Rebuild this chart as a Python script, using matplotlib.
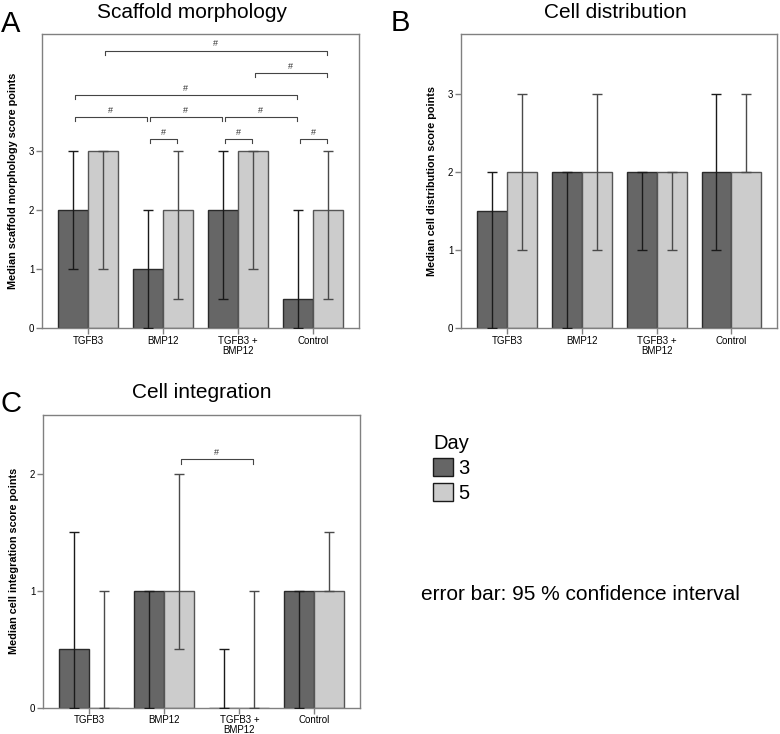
"""Median score bar charts (scaffold morphology, cell distribution, cell integration)"""

import matplotlib
matplotlib.use('Agg')
import matplotlib.pyplot as plt
from matplotlib.patches import Patch
import numpy as np

plt.rcParams['font.family'] = ['Liberation Sans', 'DejaVu Sans']

groups = ['TGFB3', 'BMP12', 'TGFB3 +\nBMP12', 'Control']
days = ['3', '5']

# panel A: scaffold morphology
morph_d3 = [2, 1, 2, 0.5]
morph_d5 = [3, 2, 3, 2]
morph_lo_d3 = [1, 0, 0.5, 0]
morph_hi_d3 = [3, 2, 3, 2]
morph_lo_d5 = [1, 0.5, 1, 0.5]
morph_hi_d5 = [3, 3, 3, 3]

# panel B: cell distribution
dist_d3 = [1.5, 2, 2, 2]
dist_d5 = [2, 2, 2, 2]
dist_lo_d3 = [0, 0, 1, 1]
dist_hi_d3 = [2, 2, 2, 3]
dist_lo_d5 = [1, 1, 1, 2]
dist_hi_d5 = [3, 3, 2, 3]

# panel C: cell integration
integ_d3 = [0.5, 1, 0, 1]
integ_d5 = [0, 1, 0, 1]
integ_lo_d3 = [0, 0, 0, 0]
integ_hi_d3 = [1.5, 1, 0.5, 1]
integ_lo_d5 = [0, 0.5, 0, 1]
integ_hi_d5 = [1, 2, 1, 1.5]

# significance brackets: (group a, day a, group b, day b, height)
morph_sig = [
    (1, 0, 1, 1, 3.2), (2, 0, 2, 1, 3.2), (3, 0, 3, 1, 3.2),
    (0, 0, 1, 0, 3.575), (1, 0, 2, 0, 3.575), (2, 0, 3, 0, 3.575),
    (0, 0, 3, 0, 3.95),
    (2, 1, 3, 1, 4.325),
    (0, 1, 3, 1, 4.7),
]
integ_sig = [(1, 1, 2, 1, 2.12)]

DARK = '#666666'
LIGHT = '#cccccc'
SPINE = '#808080'
W = 0.4


def draw_panel(ax, d3, d5, lo3, hi3, lo5, hi5, ymax, yticks, ylabel, sig, tick_h):
    x = np.arange(len(groups))
    ax.bar(x - W / 2, d3, W, color=DARK, edgecolor='#2a2a2a', linewidth=1, zorder=2)
    ax.bar(x + W / 2, d5, W, color=LIGHT, edgecolor='#555555', linewidth=1, zorder=2)
    d3 = np.array(d3, float)
    d5 = np.array(d5, float)
    ax.errorbar(x - W / 2, d3, yerr=[d3 - lo3, np.array(hi3) - d3], fmt='none',
                ecolor='#1a1a1a', elinewidth=1, capsize=3.6, capthick=1, zorder=3)
    ax.errorbar(x + W / 2, d5, yerr=[d5 - lo5, np.array(hi5) - d5], fmt='none',
                ecolor='#4a4a4a', elinewidth=1, capsize=3.6, capthick=1, zorder=3)

    for ga, da, gb, db, h in sig:
        xa = ga + (da - 0.5) * W + 0.02
        xb = gb + (db - 0.5) * W - 0.02
        ax.plot([xa, xa, xb, xb], [h - tick_h, h, h, h - tick_h],
                color='#444444', linewidth=0.8, zorder=3)
        ax.annotate('#', ((xa + xb) / 2, h), xytext=(0, 1.5), textcoords='offset points',
                    ha='center', va='bottom', fontsize=6.5, color='#333333')

    ax.set_xlim(-0.62, 3.61)
    ax.set_ylim(0, ymax)
    ax.set_xticks(x)
    ax.set_xticklabels(groups, fontsize=7, linespacing=1.0)
    ax.set_yticks(yticks)
    ax.set_yticklabels([str(t) for t in yticks], fontsize=7)
    ax.tick_params(direction='out', length=4, width=1, color=SPINE, pad=1.5)
    for s in ax.spines.values():
        s.set_color(SPINE)
        s.set_linewidth(1)
    ax.set_ylabel(ylabel, fontsize=7.8, fontweight='bold')
    ax.yaxis.set_label_coords(-0.075, 0.5)


fig = plt.figure(figsize=(7.8, 7.34), dpi=100)

ax_a = fig.add_axes([0.0538, 0.5531, 0.4064, 0.4006])
ax_b = fig.add_axes([0.5910, 0.5531, 0.4051, 0.4006])
ax_c = fig.add_axes([0.0551, 0.0358, 0.4064, 0.3988])

draw_panel(ax_a, morph_d3, morph_d5, morph_lo_d3, morph_hi_d3, morph_lo_d5, morph_hi_d5,
           4.98, [0, 1, 2, 3], 'Median scaffold morphology score points', morph_sig, 0.07)
draw_panel(ax_b, dist_d3, dist_d5, dist_lo_d3, dist_hi_d3, dist_lo_d5, dist_hi_d5,
           3.77, [0, 1, 2, 3], 'Median cell distribution score points', [], 0.05)
draw_panel(ax_c, integ_d3, integ_d5, integ_lo_d3, integ_hi_d3, integ_lo_d5, integ_hi_d5,
           2.5, [0, 1, 2], 'Median cell integration score points', integ_sig, 0.035)

# titles and panel letters
fig.text(192 / 780, 1 - 13 / 734, 'Scaffold morphology', ha='center', va='center', fontsize=15)
fig.text(615 / 780, 1 - 13 / 734, 'Cell distribution', ha='center', va='center', fontsize=15)
fig.text(202 / 780, 1 - 392 / 734, 'Cell integration', ha='center', va='center', fontsize=15)
fig.text(1 / 780, 1 - 24 / 734, 'A', ha='left', va='center', fontsize=21)
fig.text(391 / 780, 1 - 23 / 734, 'B', ha='left', va='center', fontsize=21)
fig.text(1 / 780, 1 - 404 / 734, 'C', ha='left', va='center', fontsize=21)

# legend
handles = [Patch(facecolor=DARK, edgecolor='#1a1a1a', linewidth=1),
           Patch(facecolor=LIGHT, edgecolor='#1a1a1a', linewidth=1)]
leg = fig.legend(handles, days, title='Day', loc='upper left',
                 bbox_to_anchor=(415 / 780, 1 - 416 / 734), frameon=False,
                 fontsize=14.5, title_fontsize=14.5, handlelength=1.0, handleheight=1.0,
                 handletextpad=0.25, labelspacing=0.25, alignment='left')

fig.text(421 / 780, 1 - 595 / 734, 'error bar: 95 % confidence interval',
         ha='left', va='center', fontsize=15)

fig.savefig('out.png', dpi=100)
